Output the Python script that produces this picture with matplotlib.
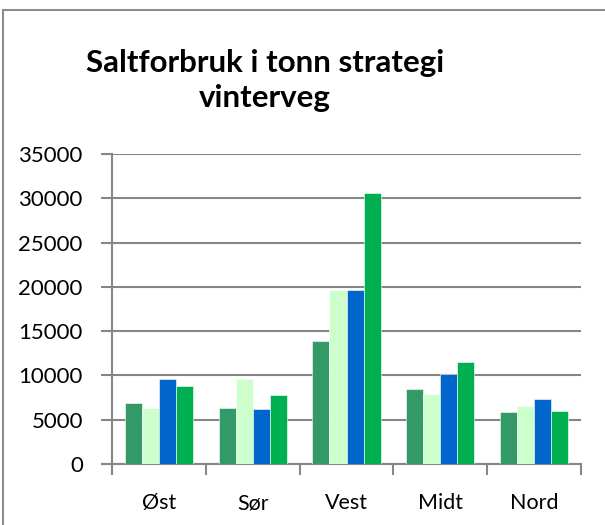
import matplotlib
matplotlib.use("Agg")
import matplotlib.pyplot as plt
import numpy as np
from matplotlib.patches import Rectangle

categories = ["Øst", "Sør", "Vest", "Midt", "Nord"]
series_a = [6850, 6320, 13930, 8470, 5830]
series_b = [6320, 9560, 19650, 7900, 6550]
series_c = [9600, 6250, 19610, 10120, 7300]
series_d = [8810, 7750, 30560, 11480, 5980]
series = [series_a, series_b, series_c, series_d]
colors = ["#339966", "#CCFFCC", "#0066CC", "#00B050"]
yticks = [0, 5000, 10000, 15000, 20000, 25000, 30000, 35000]

plt.rcParams['font.family'] = ['Lato', 'DejaVu Sans']
W, H = 605, 525
fig = plt.figure(figsize=(W/100, H/100), dpi=100)
ax = fig.add_axes([112/W, 1-464/H, (581-112)/W, (464-154)/H])

n = len(categories)
x = np.arange(n)
bw = 0.182
for i, (vals, c) in enumerate(zip(series, colors)):
    ax.bar(x + (i-1.5)*bw, vals, width=bw, color=c, edgecolor="white", linewidth=0.4, zorder=3)

grey = "#868686"
ax.set_ylim(0, 35000)
ax.set_xlim(-0.5, n-0.5)
ax.set_yticks(yticks)
ax.set_yticklabels([str(v) for v in yticks], fontsize=16)
ax.yaxis.grid(True, color=grey, linewidth=1.5, zorder=1)
ax.set_xticks(x)
ax.set_xticklabels(categories, fontsize=15.5)
ax.set_xticks(np.arange(-0.5, n, 1.0), minor=True)
ax.tick_params(axis='x', which='major', length=0, pad=21)
ax.tick_params(axis='x', which='minor', length=8, width=1.5, color=grey)
ax.tick_params(axis='y', length=8, width=1.5, color=grey, pad=13)
for s in ["top", "right"]:
    ax.spines[s].set_visible(False)
for s in ["left", "bottom"]:
    ax.spines[s].set_color(grey)
    ax.spines[s].set_linewidth(1.5)

fig.text(265/W, 1-63/H, "Saltforbruk i tonn strategi", ha='center', va='center',
         fontsize=22.5, fontweight='bold')
fig.text(265/W, 1-98/H, "vinterveg", ha='center', va='center',
         fontsize=22.5, fontweight='bold')

fig.patches.append(Rectangle((3/W, -0.1), 1.2, 1-10/H+0.1, transform=fig.transFigure,
                             fill=False, edgecolor="#8c8c8c", linewidth=1.5))
fig.savefig("out.png", dpi=100)
